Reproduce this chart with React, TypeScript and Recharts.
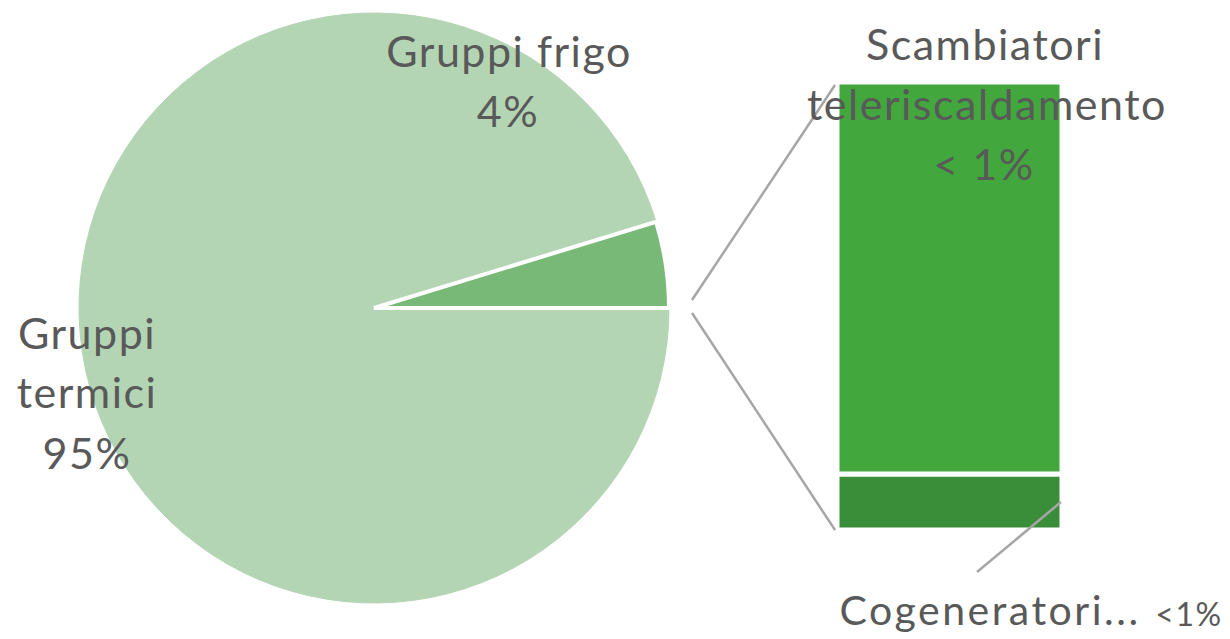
import { Bar, BarChart, Cell, Pie, PieChart, XAxis, YAxis } from "recharts";

// pie slices (share of the pie as drawn)
const pieNames = ["Gruppi frigo", "Gruppi termici", "Altri"];
const pieValues = [4, 95, 4.9];
const pieColors = ["#b4d5b4", "#b4d5b4", "#78b977"];

// bar of pie (the "Altri" slice split up)
const barNames = ["cogeneratori", "scambiatori"];
const barValues = [0.1, 0.7];
const barColors = ["#3a8e3a", "#42a73d"];

const labelColor = "#595959";
const font = "Lato, 'Open Sans', sans-serif";

const W = 1230;
const H = 639;
const cx = 374;
const cy = 308;
const R = 295;

const barLeft = 837;
const barTop = 82;
const barW = 225;
const barH = 448;

const pieData = pieNames.map((name, i) => ({ name, value: pieValues[i] }));
const barRow = [
  barNames.reduce((acc, n, i) => ({ ...acc, [n]: barValues[i] }), { name: "Altri" } as Record<string, number | string>),
];
const barTotal = barValues.reduce((a, b) => a + b, 0);
const pieTotal = pieValues.reduce((a, b) => a + b, 0);
// rotate so the "Altri" slice sits from 0 deg upward, facing the bar
const startAngle = (pieValues[2] / pieTotal) * 360;

function App() {
  return (
    <div style={{ position: "absolute", left: 0, top: 0, width: W, height: H, background: "#fff" }}>
      <div style={{ position: "absolute", left: 0, top: 0 }}>
        <PieChart width={W} height={H} margin={{ top: 0, right: 0, bottom: 0, left: 0 }}>
          <Pie
            data={pieData}
            dataKey="value"
            nameKey="name"
            cx={cx}
            cy={cy}
            outerRadius={R}
            startAngle={startAngle}
            endAngle={startAngle + 360}
            isAnimationActive={false}
            label={false}
            labelLine={false}
          >
            {pieData.map((d, i) => (
              <Cell
                key={d.name}
                fill={pieColors[i]}
                stroke={i === 2 ? "#ffffff" : pieColors[i]}
                strokeWidth={i === 2 ? 4 : 1}
              />
            ))}
          </Pie>
        </PieChart>
      </div>

      <div style={{ position: "absolute", left: barLeft, top: barTop }}>
        <BarChart
          width={barW}
          height={barH}
          data={barRow}
          margin={{ top: 0, right: 0, bottom: 0, left: 0 }}
          barCategoryGap={0}
        >
          <XAxis dataKey="name" hide />
          <YAxis hide domain={[0, barTotal]} />
          {barNames.map((n, i) => (
            <Bar
              key={n}
              dataKey={n}
              stackId="a"
              fill={barColors[i]}
              stroke="#ffffff"
              strokeWidth={5}
              isAnimationActive={false}
            />
          ))}
        </BarChart>
      </div>

      <svg
        width={W}
        height={H}
        style={{ position: "absolute", left: 0, top: 0, pointerEvents: "none" }}
      >
        {/* connector lines pie -> bar */}
        <line x1={cx + R + 23} y1={cy - 8} x2={barLeft - 2} y2={barTop + 3} stroke="#a6a6a6" strokeWidth={2.5} />
        <line x1={cx + R + 23} y1={cy + 5} x2={barLeft - 2} y2={barTop + barH} stroke="#a6a6a6" strokeWidth={2.5} />
        {/* leader for cogeneratori */}
        <line x1={barLeft + barW - 1} y1={502} x2={977} y2={572} stroke="#a6a6a6" strokeWidth={2.5} />

        <g fontFamily={font} fill={labelColor} textAnchor="middle" fontSize={43} letterSpacing={1.5}>
          <text x={509} y={67}>Gruppi frigo</text>
          <text x={508} y={127}>4%</text>

          <text x={87} y={349}>Gruppi</text>
          <text x={87} y={408}>termici</text>
          <text x={87} y={469}>95%</text>

          <text x={985} y={60}>Scambiatori</text>
          <text x={987} y={120}>teleriscaldamento</text>
          <text x={984} y={180}>{"< 1%"}</text>

          <text x={990} y={625} fontSize={41} letterSpacing={2.5}>Cogeneratori...</text>
          <text x={1189} y={626} fontSize={32} letterSpacing={1.5}>{"<1%"}</text>
        </g>
      </svg>
    </div>
  );
}

export default App;
